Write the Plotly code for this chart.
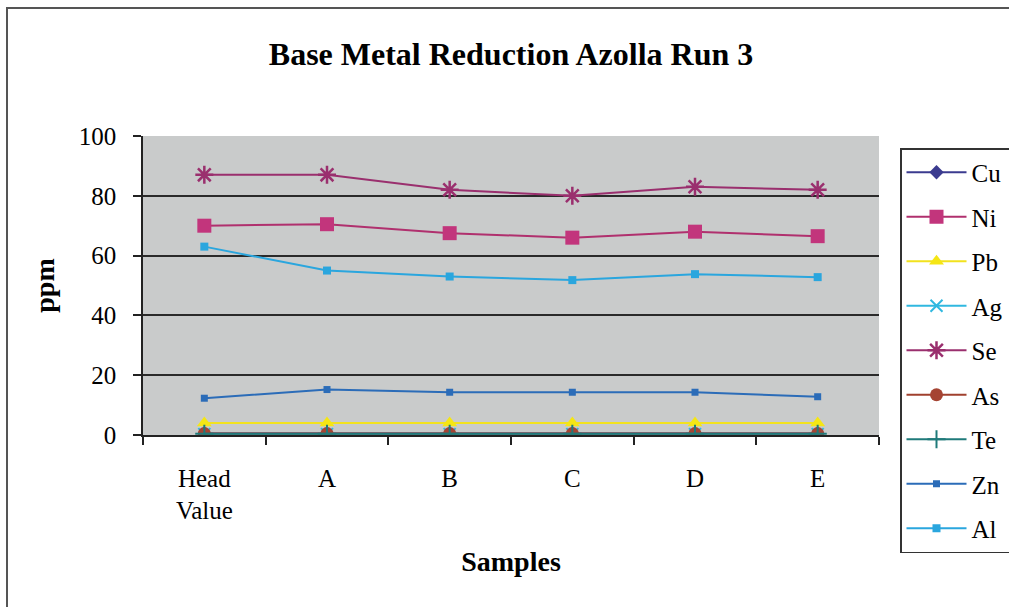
import plotly.graph_objects as go

samples = ["Head<br>Value", "A", "B", "C", "D", "E"]
series_names = ["Cu", "Ni", "Pb", "Ag", "Se", "As", "Te", "Zn", "Al"]
cu = [0.5, 0.5, 0.5, 0.5, 0.5, 0.5]
ni = [70, 70.5, 67.5, 66, 68, 66.5]
pb = [4, 4, 4, 4, 4, 4]
ag = [0.3, 0.3, 0.3, 0.3, 0.3, 0.3]
se = [87, 87, 82, 80, 83, 82]
as_ = [0.5, 0.5, 0.5, 0.5, 0.5, 0.5]
te = [0.4, 0.4, 0.4, 0.4, 0.4, 0.4]
zn = [12.3, 15.2, 14.3, 14.3, 14.3, 12.8]
al = [63, 55, 53, 51.8, 53.8, 52.8]
y_ticks = [0, 20, 40, 60, 80, 100]

values = [cu, ni, pb, ag, se, as_, te, zn, al]
styles = {
    "Cu": dict(line="#3b3b8f", symbol="diamond", mcolor="#3b3b8f", size=11, lw=0),
    "Ni": dict(line="#b0306e", symbol="square", mcolor="#c2357c", size=14, lw=0),
    "Pb": dict(line="#f2e21e", symbol="triangle-up", mcolor="#f5e614", size=13, lw=0),
    "Ag": dict(line="#30b8e0", symbol="x-thin-open", mcolor="#30b8e0", size=12, lw=2),
    "Se": dict(line="#9a2f6e", symbol="asterisk-open", mcolor="#9a2f6e", size=15, lw=2.5),
    "As": dict(line="#a0402e", symbol="circle", mcolor="#a54433", size=13, lw=0),
    "Te": dict(line="#1f7a7a", symbol="cross-thin-open", mcolor="#1f7a7a", size=13, lw=2),
    "Zn": dict(line="#2b6cb8", symbol="square", mcolor="#2b6cb8", size=7, lw=0),
    "Al": dict(line="#2aa6de", symbol="square", mcolor="#2aa6de", size=8, lw=0),
}

fig = go.Figure()
for name, vals in zip(series_names, values):
    s = styles[name]
    fig.add_trace(go.Scatter(
        x=samples, y=vals, name=name, mode="lines+markers",
        legendgroup=name,
        line=dict(color=s["line"], width=2),
        marker=dict(symbol=s["symbol"], color=s["mcolor"], size=s["size"],
                    line=dict(color=s["mcolor"], width=s["lw"])),
    ))

font_family = "Liberation Serif, Times New Roman, serif"
fig.update_layout(
    width=1009, height=607,
    margin=dict(l=143, r=130, t=136, b=172, autoexpand=False),
    paper_bgcolor="white",
    plot_bgcolor="#c9cbcb",
    font=dict(family=font_family, size=25, color="black"),
    title=dict(text="<b>Base Metal Reduction Azolla Run 3</b>", x=0.5, xref="paper",
               y=1 - 54 / 607, yanchor="middle", font=dict(size=32, family=font_family)),
    showlegend=True,
    legend=dict(x=(900 - 143) / 736, y=(435 - 148) / 299, xanchor="left", yanchor="top",
                bordercolor="#333333", borderwidth=1.5, bgcolor="white",
                font=dict(size=25, family=font_family), tracegroupgap=9,
                itemwidth=60, maxheight=560, itemclick=False),
    xaxis=dict(
        title=dict(text="<b>Samples</b>", font=dict(size=28), standoff=28),
        range=[-0.5, 5.5],
        tickson="boundaries", ticks="outside", ticklen=8, tickwidth=1.5, tickcolor="#222",
        showline=True, linecolor="#222", linewidth=1.5, showgrid=False,
        ticklabelstandoff=20, zeroline=False,
    ),
    yaxis=dict(
        title=dict(text="<b>ppm</b>", font=dict(size=28), standoff=16),
        range=[0, 100], tickvals=y_ticks, ticks="outside", ticklen=8, tickwidth=1.5,
        tickcolor="#222", showline=True, linecolor="#222", linewidth=1.5,
        showgrid=True, gridcolor="#2a2a2a", gridwidth=1.5, zeroline=False,
        ticklabelstandoff=12,
    ),
    shapes=[dict(type="rect", xref="paper", yref="paper",
                 x0=(7 - 143) / 736, x1=1.3, y0=-0.8, y1=(435 - 8) / 299,
                 line=dict(color="#555555", width=2), layer="below")],
)

fig.write_html("out.html")
